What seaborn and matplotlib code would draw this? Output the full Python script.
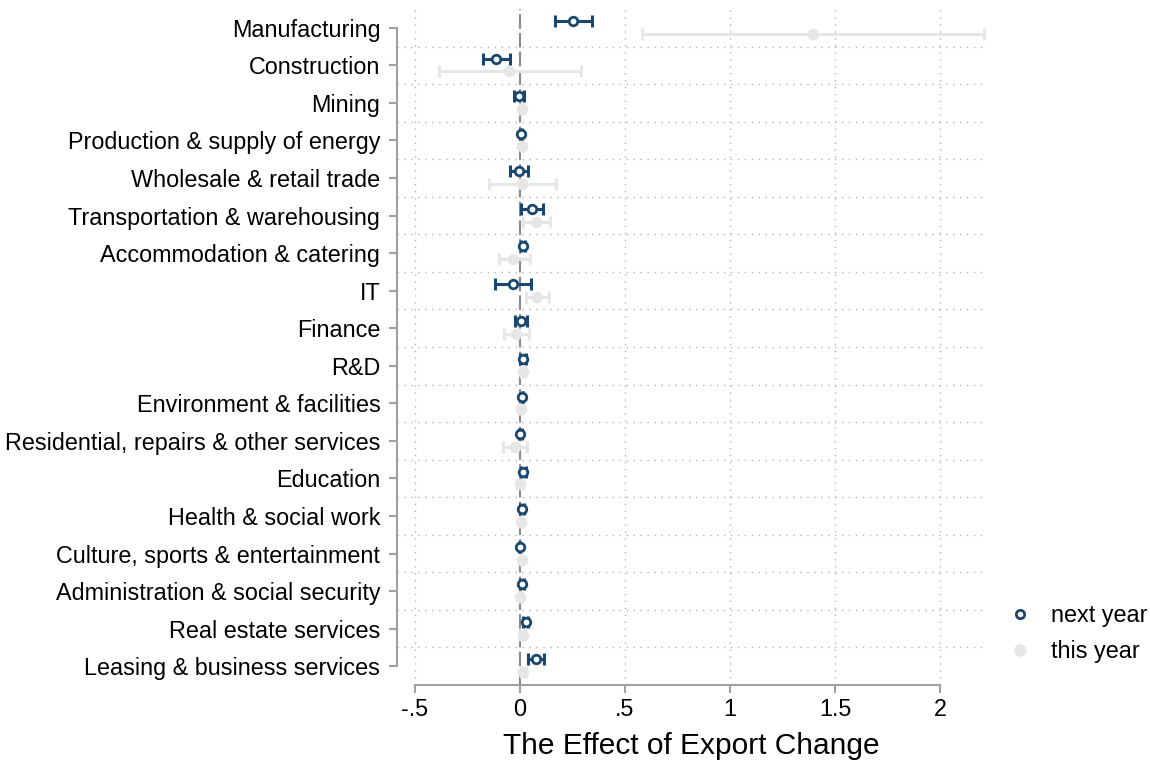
import numpy as np
import pandas as pd
import matplotlib
matplotlib.use("Agg")
import matplotlib.pyplot as plt
from matplotlib.lines import Line2D
import seaborn as sns

# 行业
sectors = ["Manufacturing", "Construction", "Mining", "Production & supply of energy",
           "Wholesale & retail trade", "Transportation & warehousing",
           "Accommodation & catering", "IT", "Finance", "R&D",
           "Environment & facilities", "Residential, repairs & other services",
           "Education", "Health & social work", "Culture, sports & entertainment",
           "Administration & social security", "Real estate services",
           "Leasing & business services"]

# next year: 估计值与置信区间
next_est = [0.25, -0.114, -0.005, 0.005, -0.004, 0.059, 0.013, -0.035, 0.003, 0.013,
            0.010, 0.002, 0.016, 0.011, -0.002, 0.010, 0.027, 0.075]
next_lo = [0.167, -0.176, -0.030, 0.000, -0.047, 0.006, 0.004, -0.120, -0.024, 0.000,
           0.008, -0.004, 0.004, 0.001, -0.005, 0.000, 0.015, 0.036]
next_hi = [0.343, -0.050, 0.020, 0.010, 0.036, 0.110, 0.022, 0.054, 0.032, 0.027,
           0.012, 0.008, 0.028, 0.021, 0.001, 0.020, 0.039, 0.113]

# this year
this_est = [1.394, -0.052, 0.010, 0.010, 0.010, 0.076, -0.032, 0.081, -0.017, 0.014,
            0.005, -0.024, 0.000, 0.003, 0.008, 0.002, 0.014, 0.016]
this_lo = [0.580, -0.386, 0.000, 0.005, -0.147, 0.016, -0.100, 0.029, -0.076, 0.004,
           0.002, -0.080, -0.013, -0.003, 0.004, -0.004, 0.002, 0.004]
this_hi = [2.210, 0.290, 0.020, 0.015, 0.170, 0.145, 0.048, 0.138, 0.043, 0.024,
           0.008, 0.032, 0.013, 0.009, 0.012, 0.008, 0.026, 0.028]

xticks = [-0.5, 0, 0.5, 1, 1.5, 2]
xticklabels = ["-.5", "0", ".5", "1", "1.5", "2"]

blue = "#1a476f"
grey = "#e6e6e6"

sns.set_theme(style="white")
plt.rcParams['font.family'] = ['Liberation Sans', 'DejaVu Sans']
plt.rcParams['text.color'] = 'black'
plt.rcParams['axes.labelcolor'] = 'black'

pos = np.arange(len(sectors))
df = pd.DataFrame({
    "y": np.concatenate([pos - 0.18, pos + 0.16]),
    "est": next_est + this_est,
    "group": ["next year"] * len(sectors) + ["this year"] * len(sectors),
})

fig = plt.figure(figsize=(11.5, 7.63), dpi=100)
ax = fig.add_axes([0.3452, 0.1022, 0.8565 - 0.3452, 0.9882 - 0.1022])

# 网格
for x in [-0.5, 0.5, 1, 1.5, 2]:
    ax.axvline(x, color="#b4b4b4", lw=1, ls=(0, (1, 4)), zorder=0)
for y in pos[:-1] + 0.5:
    ax.axhline(y, color="#b4b4b4", lw=1, ls=(0, (1, 4)), zorder=0)
ax.axvline(0, color="#8a8a8a", lw=1.5, ls=(0, (7, 2)), zorder=1)

# 置信区间
ax.errorbar(this_est, pos + 0.16,
            xerr=[np.array(this_est) - np.array(this_lo), np.array(this_hi) - np.array(this_est)],
            fmt="none", ecolor=grey, elinewidth=2.2, capsize=4.5, capthick=2.2, zorder=2)
ax.errorbar(next_est, pos - 0.18,
            xerr=[np.array(next_est) - np.array(next_lo), np.array(next_hi) - np.array(next_est)],
            fmt="none", ecolor=blue, elinewidth=2.2, capsize=4.5, capthick=2.2, zorder=3)

sns.scatterplot(data=df[df.group == "this year"], x="est", y="y", ax=ax, color=grey,
                s=70, edgecolor=grey, linewidth=0, zorder=2.5, legend=False)
sns.scatterplot(data=df[df.group == "next year"], x="est", y="y", ax=ax, color="white",
                s=38, edgecolor=blue, linewidth=2, zorder=4, legend=False)

ax.set_xlim(-0.586, 2.214)
ax.set_ylim(len(sectors) - 0.5, -0.5)
ax.set_yticks(pos)
ax.set_yticklabels(sectors, fontsize=16.8)
ax.set_xticks(xticks)
ax.set_xticklabels(xticklabels, fontsize=16.8)
ax.set_xlabel("The Effect of Export Change", fontsize=21.5, labelpad=8)
ax.set_ylabel("")

for s in ["top", "right"]:
    ax.spines[s].set_visible(False)
ax.spines["left"].set_bounds(0, len(sectors) - 1)
ax.spines["bottom"].set_bounds(-0.5, 2)
for s in ["left", "bottom"]:
    ax.spines[s].set_color("#a0a0a0")
    ax.spines[s].set_linewidth(1.5)
ax.tick_params(axis="both", which="both", length=6, width=1.5, color="#a0a0a0",
               labelcolor="black", direction="out", left=True, bottom=True)
ax.tick_params(axis="y", pad=6)

handles = [
    Line2D([], [], marker="o", ls="none", markerfacecolor="white", markeredgecolor=blue,
           markeredgewidth=2, markersize=6, label="next year"),
    Line2D([], [], marker="o", ls="none", markerfacecolor=grey, markeredgecolor=grey,
           markersize=8, label="this year"),
]
fig.legend(handles=handles, loc="center left", bbox_to_anchor=(1008 / 1150, 1 - 633.5 / 763),
           frameon=False, fontsize=16.8, handlelength=1, handletextpad=0.85,
           labelspacing=0.55, borderpad=0, borderaxespad=0)

fig.savefig("out.png", dpi=100)
